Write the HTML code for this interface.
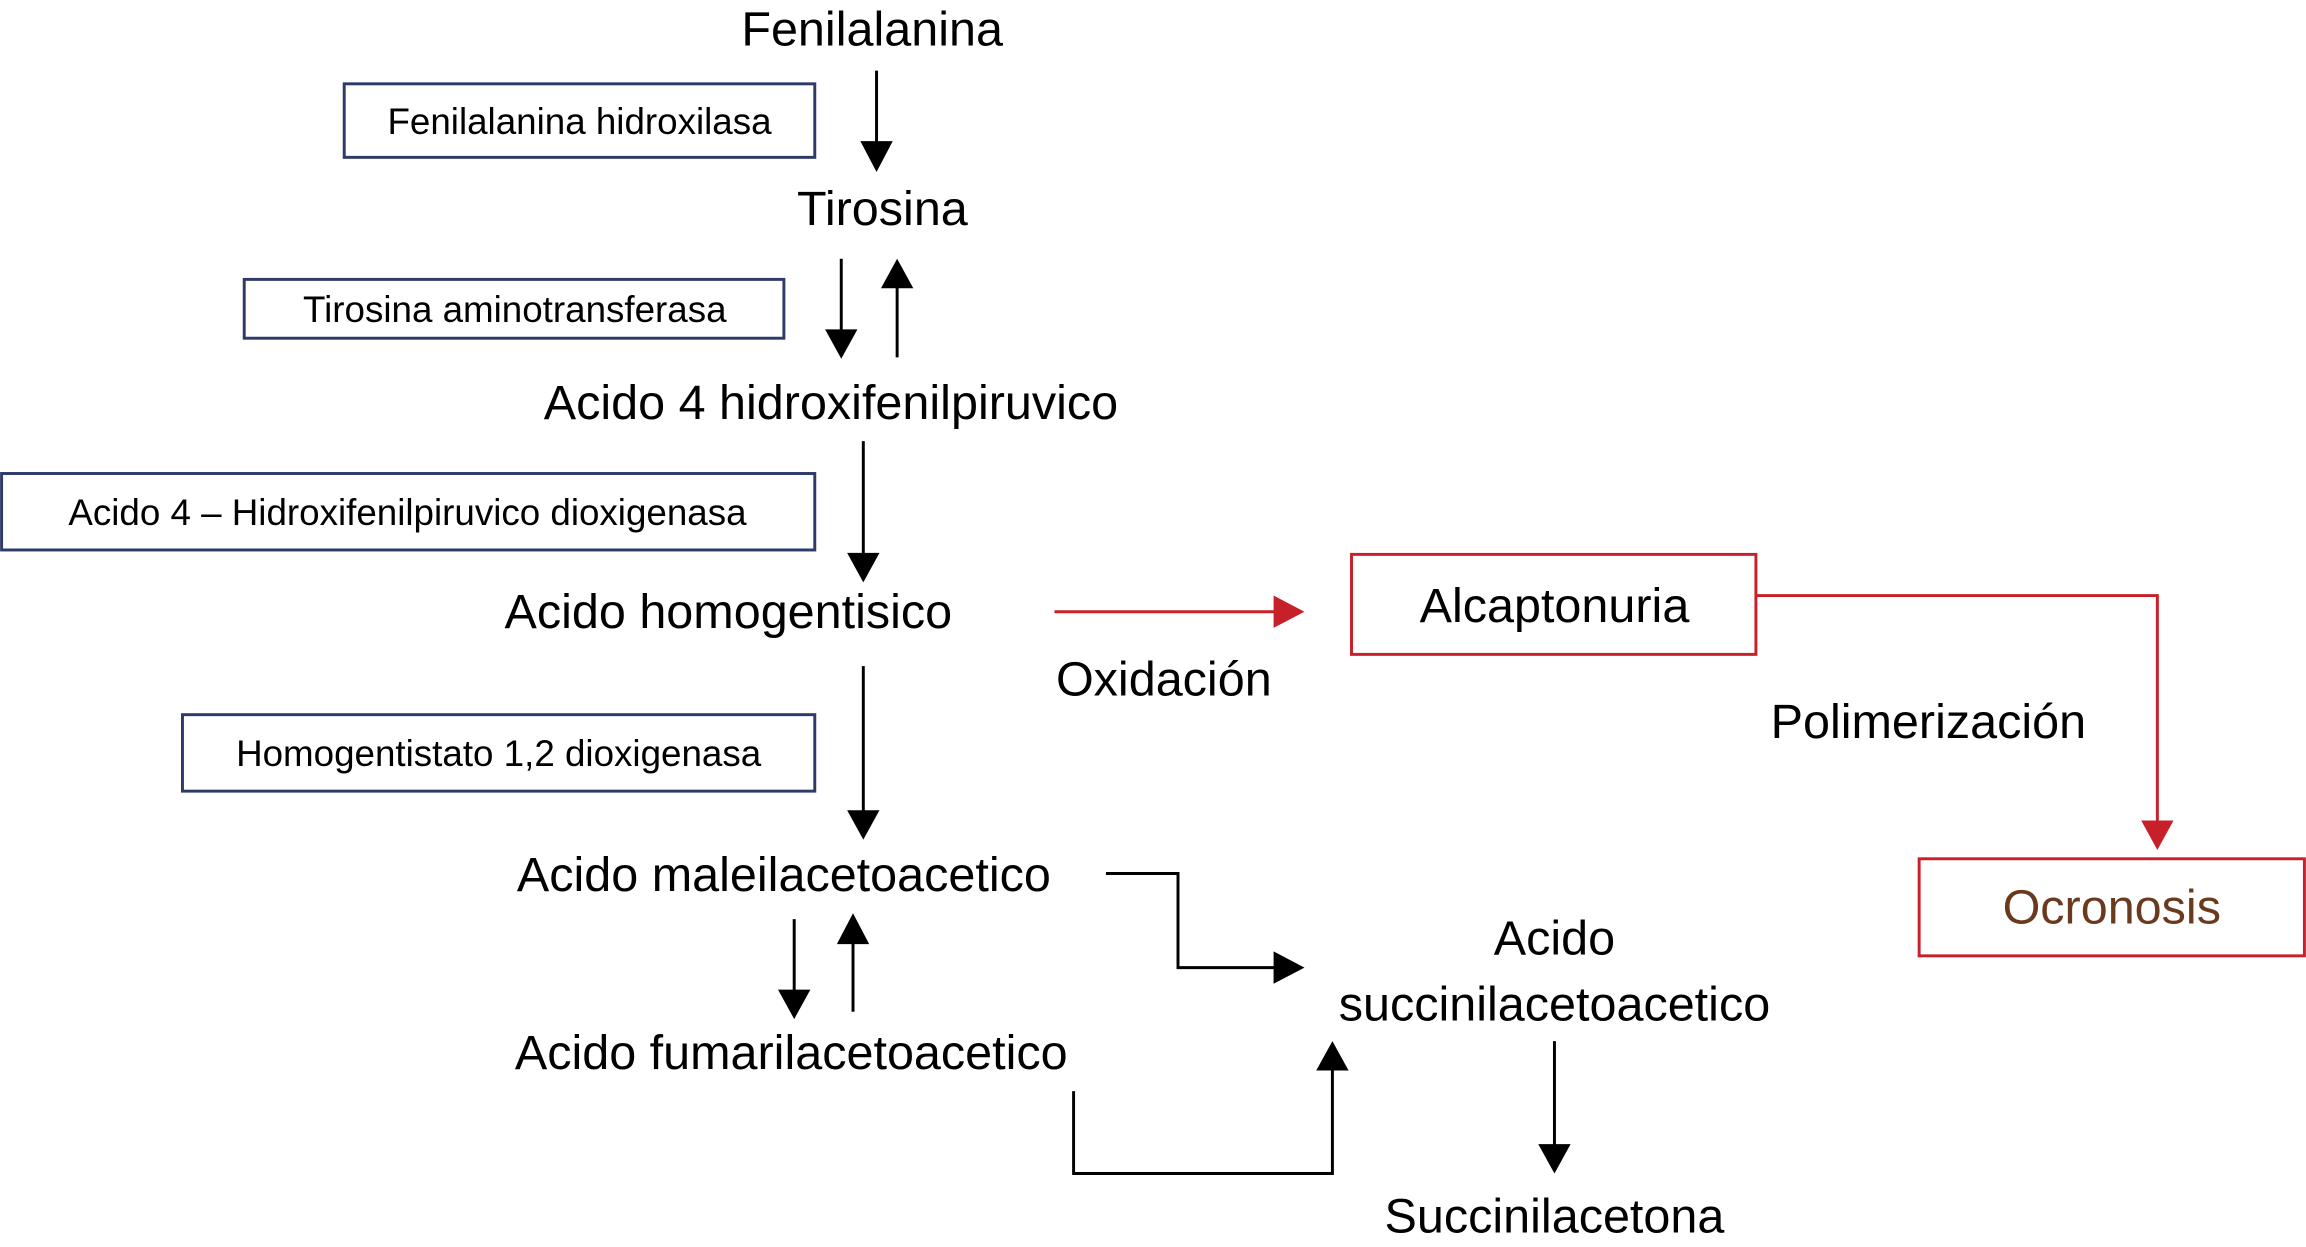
<!DOCTYPE html>
<html><head><meta charset="utf-8"><style>
html,body{margin:0;padding:0;background:#fff;}
svg{display:block;}
text{font-family:"Liberation Sans",Arial,sans-serif;fill:#000;}
.m{font-size:33px;}
.b{font-size:25px;}
</style></head><body>
<svg width="2306" height="1247" viewBox="0 0 1568 848" xmlns="http://www.w3.org/2000/svg">
<defs>
<marker id="ak" markerWidth="10" markerHeight="10" refX="9" refY="5" orient="auto" markerUnits="userSpaceOnUse" viewBox="0 0 10 10"><path d="M0,0 L10,5 L0,10 z" fill="#000"/></marker>
<marker id="ar" markerWidth="10" markerHeight="10" refX="9" refY="5" orient="auto" markerUnits="userSpaceOnUse" viewBox="0 0 10 10"><path d="M0,0 L10,5 L0,10 z" fill="#d0202a"/></marker>
</defs>
<style>
.ab{stroke:#000;stroke-width:2;fill:none;}
.bx{fill:#fff;stroke:#2e3a68;stroke-width:2;}
.rb{fill:#fff;stroke:#c8202a;stroke-width:2;}
</style>
<!-- custom arrowheads as polygons for size -->
<text class="m" x="593" y="31" text-anchor="middle">Fenilalanina</text>
<rect class="bx" x="234" y="57" width="320" height="50"/>
<text class="b" x="394" y="91" text-anchor="middle">Fenilalanina hidroxilasa</text>
<line class="ab" x1="596" y1="48" x2="596" y2="98"/><polygon points="585,96 607,96 596,117"/>
<text class="m" x="600" y="153" text-anchor="middle">Tirosina</text>
<rect class="bx" x="166" y="190" width="367" height="40"/>
<text class="b" x="350" y="219" text-anchor="middle">Tirosina aminotransferasa</text>
<line class="ab" x1="572" y1="176" x2="572" y2="226"/><polygon points="561,224 583,224 572,244"/>
<line class="ab" x1="610" y1="243" x2="610" y2="194"/><polygon points="599,196 621,196 610,176"/>
<text class="m" x="565" y="285" text-anchor="middle">Acido 4 hidroxifenilpiruvico</text>
<rect class="bx" x="1" y="322" width="553" height="52"/>
<text class="b" x="277" y="357" text-anchor="middle">Acido 4 – Hidroxifenilpiruvico dioxigenasa</text>
<line class="ab" x1="587" y1="300" x2="587" y2="378"/><polygon points="576,376 598,376 587,396"/>
<text class="m" x="343" y="427">Acido homogentisico</text>
<line x1="717" y1="416" x2="868" y2="416" stroke="#c8202a" stroke-width="2"/><polygon points="866,405 866,427 887,416" fill="#c8202a"/>
<text class="m" x="718" y="473">Oxidación</text>
<rect class="rb" x="919" y="377" width="275" height="68"/>
<text class="m" x="1057" y="423" text-anchor="middle">Alcaptonuria</text>
<polyline points="1194,405 1467,405 1467,560" fill="none" stroke="#c8202a" stroke-width="2"/><polygon points="1456,558 1478,558 1467,578" fill="#c8202a"/>
<text class="m" x="1204" y="502">Polimerización</text>
<rect class="rb" x="1305" y="584" width="262" height="66"/>
<text class="m" x="1436" y="628" text-anchor="middle" style="fill:#6b3a1e">Ocronosis</text>
<rect class="bx" x="124" y="486" width="430" height="52"/>
<text class="b" x="339" y="521" text-anchor="middle">Homogentistato 1,2 dioxigenasa</text>
<line class="ab" x1="587" y1="453" x2="587" y2="553"/><polygon points="576,551 598,551 587,571"/>
<text class="m" x="533" y="606" text-anchor="middle">Acido maleilacetoacetico</text>
<polyline class="ab" points="752,594 801,594 801,658 868,658"/><polygon points="866,647 866,669 887,658"/>
<line class="ab" x1="540" y1="625" x2="540" y2="675"/><polygon points="529,673 551,673 540,693"/>
<line class="ab" x1="580" y1="688" x2="580" y2="640"/><polygon points="569,642 591,642 580,621"/>
<text class="m" x="538" y="727" text-anchor="middle">Acido fumarilacetoacetico</text>
<polyline class="ab" points="730,742 730,798 906,798 906,726"/><polygon points="895,728 917,728 906,708"/>
<text class="m" x="1057" y="649" text-anchor="middle">Acido</text>
<text class="m" x="1057" y="694" text-anchor="middle">succinilacetoacetico</text>
<line class="ab" x1="1057" y1="708" x2="1057" y2="780"/><polygon points="1046,778 1068,778 1057,798"/>
<text class="m" x="1057" y="838" text-anchor="middle">Succinilacetona</text>
</svg>
</body></html>
